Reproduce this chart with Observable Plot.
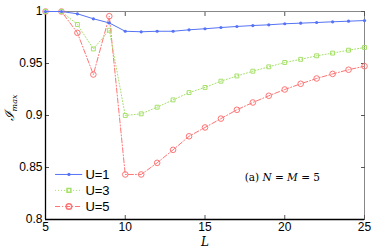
<!DOCTYPE html>
<html><head><meta charset="utf-8">
<script src="https://cdn.jsdelivr.net/npm/d3@7"></script>
<script src="https://cdn.jsdelivr.net/npm/@observablehq/plot@0.6"></script>
<style>body{margin:0;background:#fff}svg{display:block}</style>
</head><body><div id="chart"></div>
<script>
const L = [5,6,7,8,9,10,11,12,13,14,15,16,17,18,19,20,21,22,23,24,25];
const u1 = [1,1,0.9978,0.993,0.989,0.981,0.9805,0.981,0.981,0.9824,0.9834,0.9846,0.9856,0.9865,0.9872,0.9882,0.9888,0.9894,0.9901,0.9907,0.9913];
const u3 = [1,1,0.9875,0.964,0.982,0.900,0.9016,0.908,0.915,0.922,0.927,0.933,0.938,0.9426,0.9468,0.951,0.954,0.9574,0.960,0.9628,0.9654];
const u5 = [1,1,0.9795,0.9394,0.9955,0.8433,0.8433,0.8545,0.867,0.880,0.8885,0.897,0.9055,0.9125,0.919,0.925,0.9305,0.9356,0.940,0.944,0.9474];
const seriesNames = ["U=1","U=3","U=5"];
const xTicks = [5,10,15,20,25];
const yTicks = [0.8,0.85,0.9,0.95,1];
const yTickLabels = ["0.8","0.85","0.9","0.95","1"];

const blue = "#5573f5", green = "#a5e068", red = "#ff7474";
const rows = (vals) => L.map((l,i)=>({L:l, v:vals[i]}));
const d1 = rows(u1), d3s = rows(u3), d5 = rows(u5);

// legend data
const legendY = [0.8433, 0.828, 0.8125];
const legendX1 = 5.6, legendX2 = 7.3, legendXm = 6.47;

const plot = Plot.plot({
  width: 374, height: 249,
  marginLeft: 45, marginRight: 10, marginTop: 11, marginBottom: 30,
  x: {domain:[5,25]},
  y: {domain:[0.8,1]},
  style: {fontFamily: "Liberation Sans, Arial, sans-serif", fontSize: "11px", color:"#000", background:"#fff"},
  marks: [
    Plot.frame({stroke:"#888", strokeWidth:1}),
    Plot.axisX({ticks: xTicks, tickSize: -4, tickPadding: 7, fontSize: 12, label: null, stroke:"#555"}),
    Plot.axisX({anchor:"top", ticks: xTicks, tickSize: -4, tickFormat: ()=>"", label: null, stroke:"#555"}),
    Plot.axisY({ticks: yTicks, tickSize: -4, tickPadding: 7, fontSize: 12, tickFormat: (d)=>yTickLabels[yTicks.indexOf(d)], label: null, stroke:"#555"}),
    Plot.axisY({anchor:"right", ticks: yTicks, tickSize: -4, tickFormat: ()=>"", label: null, stroke:"#555"}),
    Plot.ruleX([5], {stroke:"#000", strokeWidth:1.3}),
    Plot.ruleY([0.8], {stroke:"#000", strokeWidth:1.3}),
    Plot.line(d5, {x:"L", y:"v", stroke: red, strokeWidth:1, strokeDasharray:"5,2,1,2"}),
    Plot.dot(d5, {x:"L", y:"v", r:2.8, stroke: red, strokeWidth:1, fill:"none"}),
    Plot.line(d3s, {x:"L", y:"v", stroke: green, strokeWidth:1, strokeDasharray:"1,2"}),
    Plot.dot(d3s, {x:"L", y:"v", symbol:"square", r:2.2, stroke: green, strokeWidth:1, fill:"none"}),
    Plot.line(d1, {x:"L", y:"v", stroke: blue, strokeWidth:1}),
    Plot.dot(d1, {x:"L", y:"v", r:1.6, fill: blue}),
    // legend
    Plot.link([0], {x1: legendX1, x2: legendX2, y1: legendY[0], y2: legendY[0], stroke: blue, strokeWidth:1}),
    Plot.dot([0], {x: legendXm, y: legendY[0], r:1.6, fill: blue}),
    Plot.link([0], {x1: legendX1, x2: legendX2, y1: legendY[1], y2: legendY[1], stroke: green, strokeWidth:1, strokeDasharray:"1,2"}),
    Plot.dot([0], {x: legendXm, y: legendY[1], symbol:"square", r:2.2, stroke: green, fill:"none"}),
    Plot.link([0], {x1: legendX1, x2: legendX2, y1: legendY[2], y2: legendY[2], stroke: red, strokeWidth:1, strokeDasharray:"5,2,1,2"}),
    Plot.dot([0], {x: legendXm, y: legendY[2], r:2.8, stroke: red, fill:"none"}),
    Plot.text(seriesNames, {x: 7.5, y: (d,i)=>legendY[i], text: d=>d, textAnchor:"start", fontSize: 13}),
    Plot.text(["(a) N = M = 5"], {x: 19.85, y: 0.8404, text: d=>d, fontFamily:"DejaVu Serif, serif", fontSize: 10.5})
  ]
});
document.getElementById("chart").appendChild(plot);
const svg = d3.select(plot);
// annotation italic parts
svg.selectAll("text").filter(function(){return this.textContent==="(a) N = M = 5";})
  .each(function(){
    const t = d3.select(this); t.text("");
    t.append("tspan").text("(a) ");
    t.append("tspan").attr("font-style","italic").text("N");
    t.append("tspan").text(" = ");
    t.append("tspan").attr("font-style","italic").text("M");
    t.append("tspan").text(" = 5");
  });
// axis labels
svg.append("text").attr("x", 205).attr("y", 246).attr("text-anchor","middle")
  .attr("font-family","DejaVu Serif, serif").attr("font-style","italic").attr("font-size", 12).text("L");
const yl = svg.append("text").attr("transform","translate(14,108) rotate(-90)").attr("text-anchor","middle")
  .attr("font-family","DejaVu Serif, serif").attr("font-style","italic").attr("font-size", 13);
yl.append("tspan").text("\u2110");
yl.append("tspan").attr("font-size", 8).attr("dy", 3).text("max");
</script></body></html>
